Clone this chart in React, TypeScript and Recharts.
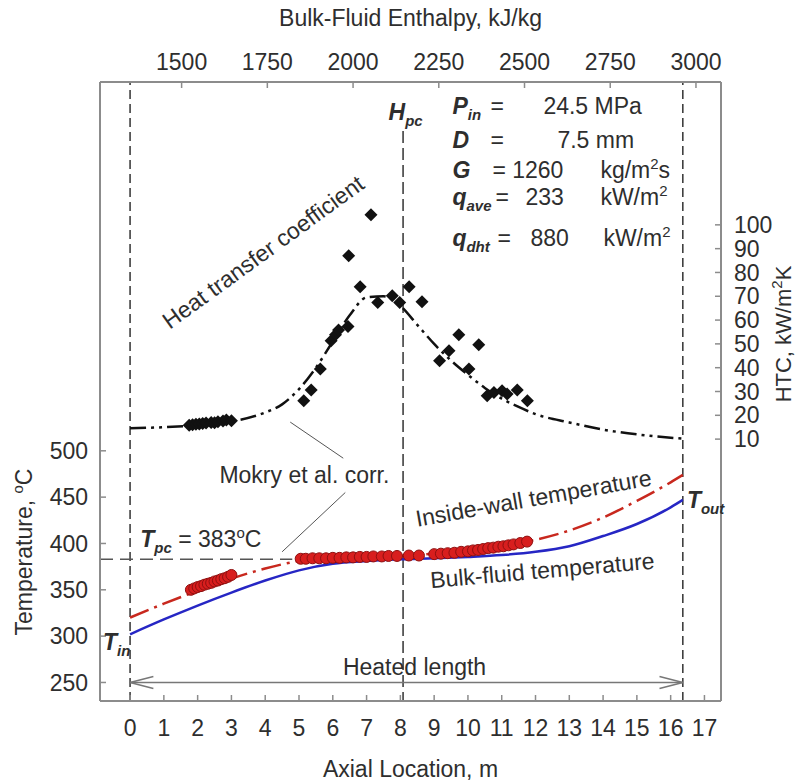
import React from "react";
import {
  ComposedChart, Line, Scatter, XAxis, YAxis, ReferenceLine, ReferenceDot,
} from "recharts";

const FONT = "'Liberation Sans', Arial, Helvetica, sans-serif";
const INK = "#2e2e2e";
const FRAME = "#8c8c8c";
const FS = 23;
const SUB = 15;

// corrected curves: axial location (m) vs temperature (°C)
const axial = [0, 1, 2, 3, 4, 5, 6, 7, 8, 9, 10, 11, 12, 13, 14, 15, 16, 16.36];
const bulkT = [302, 318, 333, 347, 360, 371, 378, 381, 383, 384, 385.5, 387.5, 391, 397, 408, 421, 439, 447];
const wallT = [320, 335, 349, 362, 373, 381, 384, 385.5, 386.5, 389, 392.5, 397.5, 404, 414, 428, 446, 466, 474];

// Mokry et al. HTC correlation, kW/m2K
const htcAxial = [0, 1, 2, 3, 4, 4.5, 5, 5.5, 6, 6.5, 7, 7.5, 8, 8.5, 9, 9.5, 10, 10.5, 11, 11.5, 12, 13, 14, 15, 16, 16.36];
const htcCorr = [14.6, 15, 15.8, 17.4, 21.2, 24.6, 31, 40, 51, 62, 69.5, 70, 66, 58, 50, 43, 37, 31.5, 27, 23.5, 20.5, 17, 14, 12, 10.6, 10.2];

// experimental wall temperatures
const wallExpX = [
  1.8, 1.9, 2.0, 2.1, 2.2, 2.3, 2.4, 2.5, 2.6, 2.7, 2.8, 2.9, 3.0,
  5.05, 5.2, 5.4, 5.6, 5.8, 6.0, 6.2, 6.4, 6.6, 6.8, 7.0, 7.2, 7.45, 7.65, 7.9, 8.25, 8.55,
  9.0, 9.2, 9.4, 9.6, 9.8, 10.0, 10.15, 10.3, 10.45, 10.6, 10.75, 10.9, 11.05, 11.2, 11.35, 11.55, 11.75,
];
const wallExpT = [
  350, 351.5, 353, 354, 355.5, 356.5, 357.5, 359, 360, 361.5, 362.5, 364, 366,
  383.5, 383.5, 384, 384, 384, 384.5, 384.5, 385, 385, 385.5, 385.5, 386, 386, 386.5, 386.5, 387, 387,
  388.5, 389, 389.5, 390, 391, 391.5, 392.5, 393, 394, 395, 395.5, 396.5, 397, 398, 399, 400.5, 402,
];

// experimental HTC
const htcExpX = [
  1.75, 1.85, 1.95, 2.05, 2.15, 2.25, 2.4, 2.5, 2.6, 2.75, 2.85, 3.0,
  5.14, 5.36, 5.63, 5.95, 6.08, 6.17, 6.45, 6.47, 6.81, 7.13, 7.33, 7.76, 7.98, 8.26, 8.64,
  9.16, 9.44, 9.73, 10.03, 10.32, 10.57, 10.77, 11.01, 11.16, 11.46, 11.76,
];
const htcExpH = [
  15.8, 16, 16.2, 16.3, 16.6, 16.8, 17, 16.9, 17.3, 17.6, 18, 17.7,
  26.1, 30.6, 39.4, 51.3, 53.8, 55.8, 57.3, 87, 74, 104.2, 67.4, 70.2, 67.4, 74, 67.7,
  42.9, 47.1, 53.8, 39.4, 49.6, 28.2, 29.6, 30.3, 28.9, 30.6, 26.1,
];

const axialTicks = [0, 1, 2, 3, 4, 5, 6, 7, 8, 9, 10, 11, 12, 13, 14, 15, 16, 17];
const tempTicks = [250, 300, 350, 400, 450, 500];
const htcTicks = [10, 20, 30, 40, 50, 60, 70, 80, 90, 100];
const enthalpyTicks = [1500, 1750, 2000, 2250, 2500, 2750, 3000];

const X_IN = 0;
const X_OUT = 16.36;
const X_PC = 8.08;
const T_PC = 383;

const bulk = axial.map((x, i) => ({ x, t: bulkT[i] }));
const wall = axial.map((x, i) => ({ x, t: wallT[i] }));
const htcLine = htcAxial.map((x, i) => ({ x, h: htcCorr[i] }));
const wallExp = wallExpX.map((x, i) => ({ x, t: wallExpT[i] }));
const htcExp = htcExpX.map((x, i) => ({ x, h: htcExpH[i] }));
// invisible carrier so the enthalpy axis gets a scale
const enthalpyCarrier = enthalpyTicks.map((hb) => ({ hb, t: 250 }));

const bi = { fontWeight: 700, fontStyle: "italic" as const };
const txt = { fontFamily: FONT, fill: INK, fontSize: FS };

const Diamond = (p: any) => {
  const { cx, cy } = p;
  const s = 6.5;
  return <polygon points={`${cx},${cy - s} ${cx + s},${cy} ${cx},${cy + s} ${cx - s},${cy}`} fill="#111" />;
};

const RedDot = (p: any) => (
  <circle cx={p.cx} cy={p.cy} r={5.5} fill="#d81e1e" stroke="#8e1010" strokeWidth={1} />
);

// text placed at a data location (axial m, temperature °C)
const at = (x: number, t: number, draw: (cx: number, cy: number) => React.ReactElement) => (
  <ReferenceDot
    xAxisId="x" yAxisId="T" x={x} y={t} r={2} ifOverflow="visible"
    shape={(p: any) => draw(p.cx, p.cy)}
  />
);

const vbOr = (p: any, d: { x: number; y: number; width: number; height: number }) => p?.viewBox ?? d;

export default function App() {
  const axisLine = { stroke: FRAME, strokeWidth: 2 };
  const tickLine = { stroke: FRAME, strokeWidth: 1.5 };
  const tick = { fill: INK, fontSize: FS, fontFamily: FONT };

  return (
    <div style={{ position: "absolute", left: 0, top: 0, background: "#fff" }}>
      <ComposedChart width={797} height={784} margin={{ top: 0, right: 0, bottom: 0, left: 0 }}>
        <XAxis
          xAxisId="x" dataKey="x" type="number" domain={[-0.89, 17.49]} allowDataOverflow
          ticks={axialTicks} interval={0} height={83} tickSize={-6} tickMargin={25}
          axisLine={axisLine} tickLine={tickLine} tick={tick}
          label={(p: any) => {
            const vb = vbOr(p, { x: 100, y: 701, width: 621, height: 83 });
            return <text {...txt} x={vb.x + vb.width / 2} y={vb.y + 76} textAnchor="middle">Axial Location, m</text>;
          }}
        />
        <XAxis
          xAxisId="top" dataKey="hb" orientation="top" type="number" domain={[1262, 3073]} allowDataOverflow
          ticks={enthalpyTicks} interval={0} height={82} tickSize={-6} tickMargin={18}
          axisLine={axisLine} tickLine={tickLine} tick={tick}
          label={(p: any) => {
            const vb = vbOr(p, { x: 100, y: 0, width: 621, height: 82 });
            return <text {...txt} x={vb.x + vb.width / 2} y={vb.y + 26} textAnchor="middle">Bulk-Fluid Enthalpy, kJ/kg</text>;
          }}
        />
        <YAxis
          yAxisId="T" dataKey="t" type="number" domain={[230, 898]} allowDataOverflow
          ticks={tempTicks} interval={0} width={100} tickSize={-6} tickMargin={18}
          axisLine={axisLine} tickLine={tickLine} tick={tick}
          label={(p: any) => {
            const vb = vbOr(p, { x: 0, y: 82, width: 100, height: 619 });
            const lx = vb.x + 32;
            const ly = vb.y + 470;
            return (
              <text {...txt} x={lx} y={ly} textAnchor="middle" transform={`rotate(-90 ${lx} ${ly})`}>
                Temperature, <tspan fontSize={SUB} dy={-9}>o</tspan><tspan dy={9}>C</tspan>
              </text>
            );
          }}
        />
        <YAxis
          yAxisId="H" dataKey="h" orientation="right" type="number" domain={[-100, 160]} allowDataOverflow
          ticks={htcTicks} interval={0} width={76} tickSize={-6} tickMargin={19}
          axisLine={axisLine} tickLine={tickLine} tick={tick}
          label={(p: any) => {
            const vb = vbOr(p, { x: 721, y: 82, width: 76, height: 619 });
            const lx = vb.x + 70;
            const ly = vb.y + 252;
            return (
              <text {...txt} fontSize={22} x={lx} y={ly} textAnchor="middle" transform={`rotate(-90 ${lx} ${ly})`}>
                HTC, kW/m<tspan fontSize={SUB} dy={-9}>2</tspan><tspan dy={9}>K</tspan>
              </text>
            );
          }}
        />

        <Line
          xAxisId="top" yAxisId="T" data={enthalpyCarrier} dataKey="t" stroke="none"
          dot={false} activeDot={false} legendType="none" isAnimationActive={false}
        />

        {/* inlet / outlet / pseudocritical markers */}
        <ReferenceLine xAxisId="x" yAxisId="T" x={X_IN} stroke="#333" strokeWidth={1.5} strokeDasharray="9 5" />
        <ReferenceLine xAxisId="x" yAxisId="T" x={X_OUT} stroke="#333" strokeWidth={1.5} strokeDasharray="9 5" />
        <ReferenceLine
          xAxisId="x" yAxisId="T" segment={[{ x: X_PC, y: 845 }, { x: X_PC, y: 230 }]}
          stroke="#333" strokeWidth={1.5} strokeDasharray="12 5"
        />
        <ReferenceLine
          xAxisId="x" yAxisId="T" segment={[{ x: -0.89, y: T_PC }, { x: 4.8, y: T_PC }]}
          stroke="#555" strokeWidth={1.5} strokeDasharray="13 7" ifOverflow="visible"
        />

        {/* heated length arrow */}
        <ReferenceLine xAxisId="x" yAxisId="T" segment={[{ x: X_IN, y: 250 }, { x: X_OUT, y: 250 }]} stroke="#777" strokeWidth={1.5} />
        <ReferenceLine xAxisId="x" yAxisId="T" segment={[{ x: X_IN, y: 250 }, { x: X_IN + 0.69, y: 256.5 }]} stroke="#777" strokeWidth={1.5} />
        <ReferenceLine xAxisId="x" yAxisId="T" segment={[{ x: X_IN, y: 250 }, { x: X_IN + 0.69, y: 243.5 }]} stroke="#777" strokeWidth={1.5} />
        <ReferenceLine xAxisId="x" yAxisId="T" segment={[{ x: X_OUT, y: 250 }, { x: X_OUT - 0.69, y: 256.5 }]} stroke="#777" strokeWidth={1.5} />
        <ReferenceLine xAxisId="x" yAxisId="T" segment={[{ x: X_OUT, y: 250 }, { x: X_OUT - 0.69, y: 243.5 }]} stroke="#777" strokeWidth={1.5} />

        {/* leader lines for the correlation label */}
        <ReferenceLine xAxisId="x" yAxisId="T" segment={[{ x: 4.74, y: 531 }, { x: 6.31, y: 492 }]} stroke="#555" strokeWidth={1} />
        <ReferenceLine xAxisId="x" yAxisId="T" segment={[{ x: 6.37, y: 455 }, { x: 4.5, y: 391 }]} stroke="#555" strokeWidth={1} />

        <Line
          xAxisId="x" yAxisId="H" data={htcLine} dataKey="h" type="monotone"
          stroke="#111" strokeWidth={2.5} strokeDasharray="16 5 3 5 3 5" dot={false} activeDot={false}
          isAnimationActive={false}
        />
        <Line
          xAxisId="x" yAxisId="T" data={bulk} dataKey="t" type="monotone"
          stroke="#2626c4" strokeWidth={2.5} dot={false} activeDot={false} isAnimationActive={false}
        />
        <Line
          xAxisId="x" yAxisId="T" data={wall} dataKey="t" type="monotone"
          stroke="#c8281e" strokeWidth={2.5} strokeDasharray="20 6 3 6" dot={false} activeDot={false}
          isAnimationActive={false}
        />
        <Scatter xAxisId="x" yAxisId="T" data={wallExp} dataKey="t" shape={RedDot} isAnimationActive={false} />
        <Scatter xAxisId="x" yAxisId="H" data={htcExp} dataKey="h" shape={Diamond} isAnimationActive={false} />

        {at(-0.8, 285, (cx, cy) => (
          <text {...txt} x={cx} y={cy}>
            <tspan {...bi}>T</tspan><tspan {...bi} fontSize={SUB} dy={6}>in</tspan>
          </text>
        ))}
        {at(16.48, 438, (cx, cy) => (
          <text {...txt} x={cx} y={cy}>
            <tspan {...bi}>T</tspan><tspan {...bi} fontSize={SUB} dy={6}>out</tspan>
          </text>
        ))}
        {at(7.65, 857, (cx, cy) => (
          <text {...txt} x={cx} y={cy}>
            <tspan {...bi}>H</tspan><tspan {...bi} fontSize={SUB} dy={6}>pc</tspan>
          </text>
        ))}
        {at(0.3, 396, (cx, cy) => (
          <text {...txt} x={cx} y={cy}>
            <tspan {...bi}>T</tspan><tspan {...bi} fontSize={SUB} dy={6}>pc</tspan>
            <tspan dy={-6}> = 383</tspan><tspan fontSize={SUB} dy={-9}>o</tspan><tspan dy={9}>C</tspan>
          </text>
        ))}
        {at(9.54, 863.3, (cx, cy) => (
          <g>
            <text {...txt} x={cx} y={cy}>
              <tspan {...bi}>P</tspan><tspan {...bi} fontSize={SUB} dy={6}>in</tspan>
              <tspan x={cx + 38} dy={-6}>=</tspan>
              <tspan x={cx + 91}>24.5 MPa</tspan>
            </text>
            <text {...txt} x={cx} y={cy + 34}>
              <tspan {...bi}>D</tspan>
              <tspan x={cx + 38}>=</tspan>
              <tspan x={cx + 105}>7.5 mm</tspan>
            </text>
            <text {...txt} x={cx} y={cy + 64}>
              <tspan {...bi}>G</tspan>
              <tspan x={cx + 40}>= 1260</tspan>
              <tspan x={cx + 148}>kg/m</tspan><tspan fontSize={SUB} dy={-9}>2</tspan><tspan dy={9}>s</tspan>
            </text>
            <text {...txt} x={cx} y={cy + 91}>
              <tspan {...bi}>q</tspan><tspan {...bi} fontSize={SUB} dy={6}>ave</tspan>
              <tspan x={cx + 43} dy={-6}>=</tspan>
              <tspan x={cx + 73}>233</tspan>
              <tspan x={cx + 148}>kW/m</tspan><tspan fontSize={SUB} dy={-9}>2</tspan>
            </text>
            <text {...txt} x={cx} y={cy + 131.5}>
              <tspan {...bi}>q</tspan><tspan {...bi} fontSize={SUB} dy={6}>dht</tspan>
              <tspan x={cx + 45} dy={-6}>=</tspan>
              <tspan x={cx + 78}>880</tspan>
              <tspan x={cx + 151}>kW/m</tspan><tspan fontSize={SUB} dy={-9}>2</tspan>
            </text>
          </g>
        ))}
        {at(5.16, 465, (cx, cy) => (
          <text {...txt} x={cx} y={cy} textAnchor="middle">Mokry et al. corr.</text>
        ))}
        {at(8.42, 258, (cx, cy) => (
          <text {...txt} x={cx} y={cy} textAnchor="middle">Heated length</text>
        ))}
        {at(3.94, 714.5, (cx, cy) => (
          <text {...txt} x={cx} y={cy} dy="0.35em" textAnchor="middle" transform={`rotate(-36 ${cx} ${cy})`}>
            Heat transfer coefficient
          </text>
        ))}
        {at(11.94, 449, (cx, cy) => (
          <text {...txt} x={cx} y={cy} dy="0.35em" textAnchor="middle" transform={`rotate(-10 ${cx} ${cy})`}>
            Inside-wall temperature
          </text>
        ))}
        {at(12.2, 371, (cx, cy) => (
          <text {...txt} x={cx} y={cy} dy="0.35em" textAnchor="middle" transform={`rotate(-5 ${cx} ${cy})`}>
            Bulk-fluid temperature
          </text>
        ))}
      </ComposedChart>
    </div>
  );
}
